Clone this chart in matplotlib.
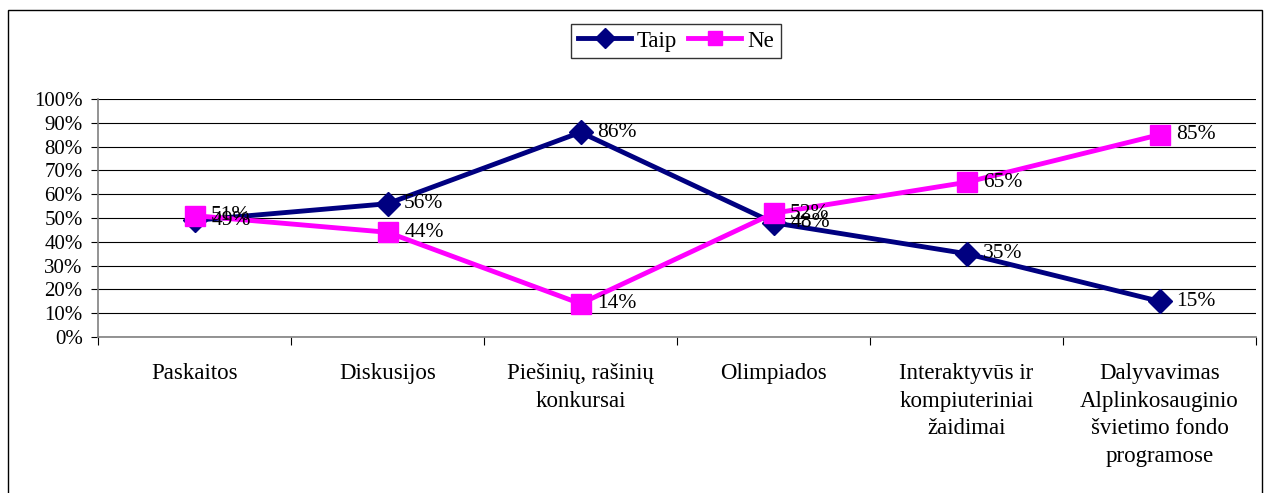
import matplotlib
matplotlib.use("Agg")
import matplotlib.pyplot as plt
from matplotlib.patches import Rectangle

categories = ["Paskaitos", "Diskusijos", "Piešinių, rašinių\nkonkursai", "Olimpiados",
              "Interaktyvūs ir\nkompiuteriniai\nžaidimai",
              "Dalyvavimas\nAlplinkosauginio\nšvietimo fondo\nprogramose"]
taip = [49, 56, 86, 48, 35, 15]
ne = [51, 44, 14, 52, 65, 85]
yticks = list(range(0, 101, 10))

plt.rcParams['font.family'] = ['Liberation Serif', 'DejaVu Serif']
plt.rcParams['font.size'] = 14

W, H = 1265, 493
fig = plt.figure(figsize=(W / 100, H / 100), dpi=100)
ax = fig.add_axes([98 / W, 1 - 337 / H, (1256 - 98) / W, (337 - 99) / H])

# outer chart border
fig.patches.append(Rectangle((8 / W, -0.1), (1262 - 8) / W, (1 - 10 / H) + 0.1,
                             transform=fig.transFigure, fill=False, edgecolor='black',
                             linewidth=1.0))

x = list(range(len(categories)))
ax.plot(x, taip, color='#000080', linewidth=3.5, marker='D', markersize=12,
        markerfacecolor='#000080', markeredgecolor='#000080', label='Taip', zorder=3,
        clip_on=False)
ax.plot(x, ne, color='#FF00FF', linewidth=3.5, marker='s', markersize=14,
        markerfacecolor='#FF00FF', markeredgecolor='#FF00FF', label='Ne', zorder=4,
        clip_on=False)

for xi, v in zip(x, taip):
    ax.annotate(f"{v}%", (xi, v), xytext=(12, 0), textcoords='offset points',
                va='center', ha='left', fontsize=15.5, zorder=5)
for xi, v in zip(x, ne):
    ax.annotate(f"{v}%", (xi, v), xytext=(12, 0), textcoords='offset points',
                va='center', ha='left', fontsize=15.5, zorder=5)

ax.set_xlim(-0.5, len(categories) - 0.5)
ax.set_ylim(0, 100)
ax.set_yticks(yticks)
ax.set_yticklabels([f"{t}%" for t in yticks], fontsize=15)
ax.yaxis.grid(True, color='black', linewidth=0.8)
ax.set_axisbelow(True)

ax.set_xticks(x)
ax.set_xticklabels(categories, linespacing=1.4, va='top', fontsize=16.5)
ax.set_xticks([i - 0.5 for i in range(len(categories) + 1)], minor=True)
ax.tick_params(axis='x', which='major', length=0, pad=19)
ax.tick_params(axis='x', which='minor', length=6, direction='out', width=0.8)
ax.tick_params(axis='y', length=5, direction='out', width=0.8, pad=6)

for s in ['top', 'right']:
    ax.spines[s].set_visible(False)
for s in ['left', 'bottom']:
    ax.spines[s].set_color('#808080')
    ax.spines[s].set_linewidth(1.2)

leg = fig.legend(loc='center', bbox_to_anchor=(676 / W, 1 - 41 / H), ncol=2,
                 frameon=True, fancybox=False, edgecolor='black', handlelength=2.3,
                 columnspacing=0.5, handletextpad=0.25, borderpad=0.3, fontsize=16.5)
leg.get_frame().set_linewidth(1.0)
for h in leg.legend_handles:
    h.set_markersize(10)

fig.savefig("out.png", dpi=100)
